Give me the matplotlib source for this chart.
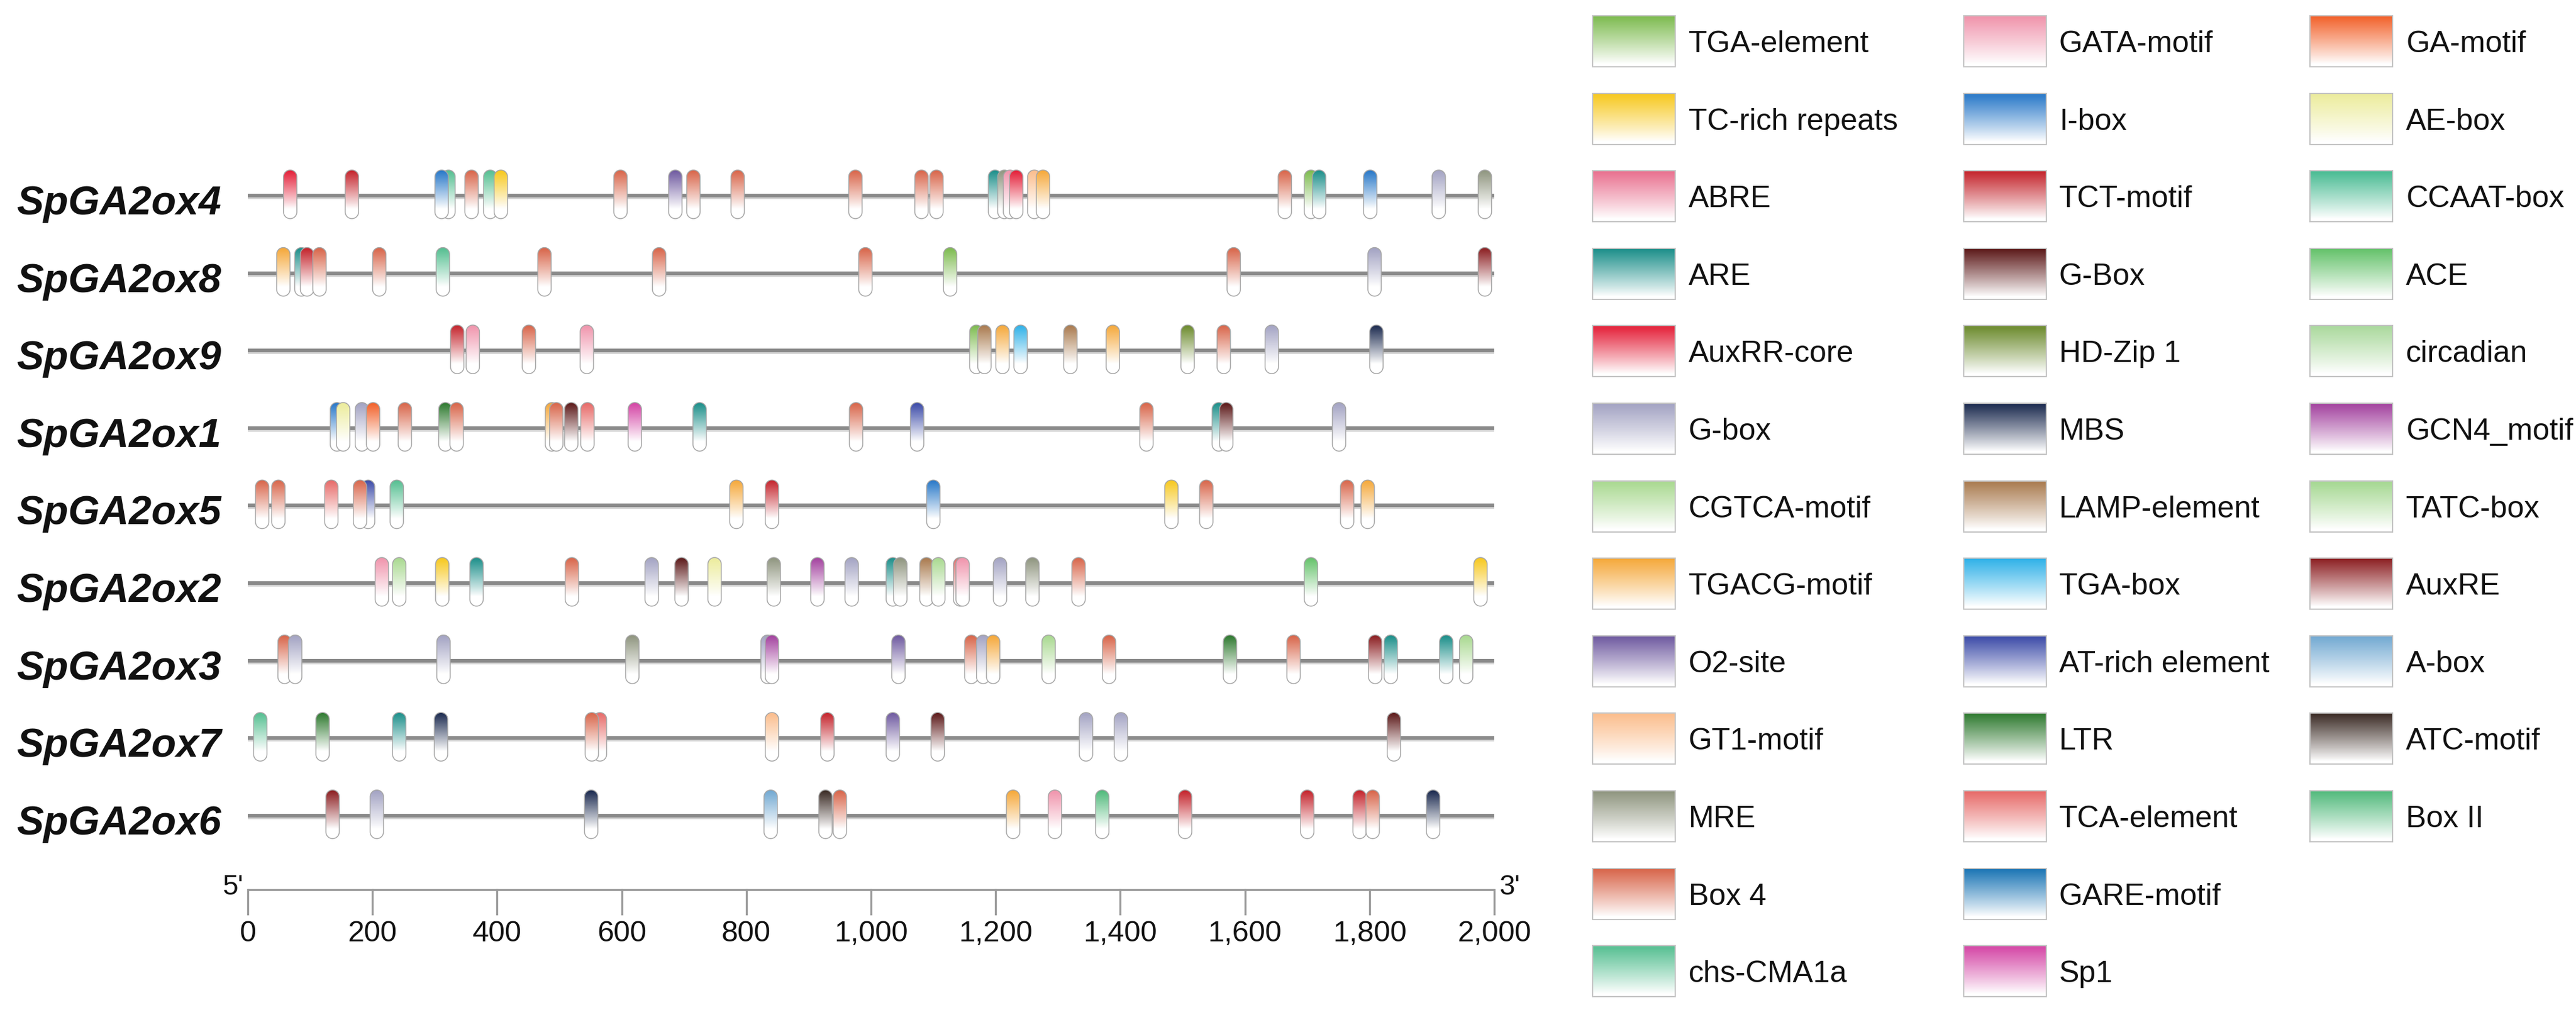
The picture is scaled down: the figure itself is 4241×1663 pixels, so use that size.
import numpy as np
import matplotlib
matplotlib.use("Agg")
import matplotlib.pyplot as plt
from matplotlib.patches import Polygon, Rectangle
from matplotlib.colors import to_rgb

plt.rcParams['font.family'] = ['Liberation Sans', 'DejaVu Sans']

# ---- data -----------------------------------------------------------------
genes = ["SpGA2ox4", "SpGA2ox8", "SpGA2ox9", "SpGA2ox1", "SpGA2ox5",
         "SpGA2ox2", "SpGA2ox3", "SpGA2ox7", "SpGA2ox6"]
gene_length = 2000

ox4_pos = [68, 167, 322, 311, 359, 389, 406, 598, 686, 715, 786, 975, 1081, 1105,
           1199, 1214, 1223, 1233, 1262, 1276, 1664, 1706, 1719, 1801, 1911, 1985]
ox4_elem = ["AuxRR-core", "TCT-motif", "chs-CMA1a", "I-box", "Box 4", "chs-CMA1a",
            "TC-rich repeats", "Box 4", "O2-site", "Box 4", "Box 4", "Box 4", "Box 4",
            "Box 4", "ARE", "MRE", "GATA-motif", "AuxRR-core", "GT1-motif",
            "TGACG-motif", "Box 4", "TGA-element", "ARE", "I-box", "G-box", "MRE"]

ox8_pos = [57, 86, 95, 115, 211, 313, 476, 660, 991, 1127, 1582, 1808, 1985]
ox8_elem = ["TGACG-motif", "ARE", "TCT-motif", "Box 4", "Box 4", "chs-CMA1a",
            "Box 4", "Box 4", "Box 4", "TGA-element", "Box 4", "G-box", "AuxRE"]

ox9_pos = [336, 361, 451, 544, 1169, 1182, 1211, 1240, 1320, 1388, 1508, 1566,
           1643, 1811]
ox9_elem = ["TCT-motif", "GATA-motif", "Box 4", "GATA-motif", "TGA-element",
            "LAMP-element", "TGACG-motif", "TGA-box", "LAMP-element", "TGACG-motif",
            "HD-Zip 1", "Box 4", "G-box", "MBS"]

ox1_pos = [143, 153, 183, 201, 252, 317, 335, 488, 495, 519, 545, 621, 725, 976,
           1074, 1442, 1558, 1570, 1751]
ox1_elem = ["I-box", "AE-box", "G-box", "GA-motif", "Box 4", "LTR", "Box 4",
            "TGACG-motif", "Box 4", "G-Box", "TCA-element", "Sp1", "ARE", "Box 4",
            "AT-rich element", "Box 4", "ARE", "G-Box", "G-box"]

ox5_pos = [23, 49, 134, 193, 180, 239, 784, 841, 1100, 1482, 1538, 1764, 1797]
ox5_elem = ["Box 4", "Box 4", "TCA-element", "AT-rich element", "Box 4",
            "chs-CMA1a", "TGACG-motif", "TCT-motif", "I-box", "TC-rich repeats",
            "Box 4", "Box 4", "TGACG-motif"]

ox2_pos = [215, 243, 312, 367, 520, 648, 696, 749, 844, 914, 969, 1035, 1047,
           1089, 1108, 1143, 1147, 1207, 1259, 1333, 1706, 1978]
ox2_elem = ["GATA-motif", "CGTCA-motif", "TC-rich repeats", "ARE", "Box 4", "G-box",
            "G-Box", "AE-box", "MRE", "GCN4_motif", "G-box", "ARE", "MRE",
            "LAMP-element", "CGTCA-motif", "TCA-element", "GATA-motif", "G-box",
            "MRE", "Box 4", "ACE", "TC-rich repeats"]

ox3_pos = [59, 76, 314, 617, 834, 841, 1044, 1161, 1180, 1196, 1285, 1382, 1576,
           1678, 1809, 1834, 1923, 1955]
ox3_elem = ["Box 4", "G-box", "G-box", "MRE", "G-box", "GCN4_motif", "O2-site",
            "Box 4", "G-box", "TGACG-motif", "CGTCA-motif", "Box 4", "LTR", "Box 4",
            "AuxRE", "ARE", "ARE", "CGTCA-motif"]

ox7_pos = [20, 120, 243, 310, 565, 552, 841, 930, 1035, 1107, 1345, 1401, 1839]
ox7_elem = ["chs-CMA1a", "LTR", "ARE", "MBS", "TCA-element", "Box 4", "GT1-motif",
            "TCT-motif", "O2-site", "G-Box", "G-box", "G-box", "G-Box"]

ox6_pos = [136, 207, 551, 839, 927, 950, 1228, 1295, 1371, 1504, 1700, 1784, 1805,
           1902]
ox6_elem = ["AuxRE", "G-box", "MBS", "A-box", "ATC-motif", "Box 4", "TGACG-motif",
            "GATA-motif", "Box II", "TCT-motif", "TCT-motif", "TCT-motif", "Box 4",
            "MBS"]

gene_pos = [ox4_pos, ox8_pos, ox9_pos, ox1_pos, ox5_pos, ox2_pos, ox3_pos, ox7_pos, ox6_pos]
gene_elem = [ox4_elem, ox8_elem, ox9_elem, ox1_elem, ox5_elem, ox2_elem, ox3_elem,
             ox7_elem, ox6_elem]

tick_values = [0, 200, 400, 600, 800, 1000, 1200, 1400, 1600, 1800, 2000]

legend_cols = [
    ["TGA-element", "TC-rich repeats", "ABRE", "ARE", "AuxRR-core", "G-box",
     "CGTCA-motif", "TGACG-motif", "O2-site", "GT1-motif", "MRE", "Box 4", "chs-CMA1a"],
    ["GATA-motif", "I-box", "TCT-motif", "G-Box", "HD-Zip 1", "MBS", "LAMP-element",
     "TGA-box", "AT-rich element", "LTR", "TCA-element", "GARE-motif", "Sp1"],
    ["GA-motif", "AE-box", "CCAAT-box", "ACE", "circadian", "GCN4_motif", "TATC-box",
     "AuxRE", "A-box", "ATC-motif", "Box II"],
]

element_colors = {
    "TGA-element": "#7dbb4f", "TC-rich repeats": "#f7c81e", "ABRE": "#e9708f",
    "ARE": "#1c8f8a", "AuxRR-core": "#e41f38", "G-box": "#a3a3c3",
    "CGTCA-motif": "#a9d990", "TGACG-motif": "#f5a83a", "O2-site": "#6f5aa0",
    "GT1-motif": "#fbbd8c", "MRE": "#8f957f", "Box 4": "#d8654a",
    "chs-CMA1a": "#55bf91", "GATA-motif": "#f094ac", "I-box": "#2878c8",
    "TCT-motif": "#c4242c", "G-Box": "#5c1919", "HD-Zip 1": "#6b8a2c",
    "MBS": "#1b2a4f", "LAMP-element": "#a97a4e", "TGA-box": "#2fb1e8",
    "AT-rich element": "#3c4ba8", "LTR": "#2f7a30", "TCA-element": "#e76a68",
    "GARE-motif": "#1b75b5", "Sp1": "#d445a5", "GA-motif": "#f2612a",
    "AE-box": "#ecec9c", "CCAAT-box": "#48bb92", "ACE": "#64c26a",
    "circadian": "#aad99c", "GCN4_motif": "#a3429f", "TATC-box": "#a5d891",
    "AuxRE": "#8c1f22", "A-box": "#72a9d2", "ATC-motif": "#3b2b25",
    "Box II": "#52ba7c",
}

# ---- layout (pixels) -------------------------------------------------------
W, H = 4241, 1663
X0_PX, X1_PX = 408, 2460          # 0 bp and 2000 bp
ROW0_PX, ROW_STEP = 322, 127.6    # first gene line, row spacing
PX_X = gene_length / (X1_PX - X0_PX)   # bp per pixel
PX_Y = 1.0 / ROW_STEP                  # rows per pixel
CAP_W, CAP_H, CAP_DY = 22, 80, -2


def gradient(color, n=64, fade=0.8):
    t = np.linspace(0, 1, n)
    mix = np.clip((fade - t) / fade, 0, 1) ** 0.95
    c = np.array(to_rgb(color))
    rgb = 1 - mix[:, None] * (1 - c[None, :])
    return rgb[:, None, :]


def capsule(ax, xc, yc, color, z):
    r = CAP_W / 2
    t = np.linspace(0, np.pi, 24)
    top_c = CAP_DY - CAP_H / 2 + r
    bot_c = CAP_DY + CAP_H / 2 - r
    xs = np.concatenate([r * np.cos(t), -r * np.cos(t)])
    ys = np.concatenate([top_c - r * np.sin(t), bot_c + r * np.sin(t)])
    pts = np.column_stack([xc + xs * PX_X, yc + ys * PX_Y])
    outline = Polygon(pts, closed=True, facecolor="none", edgecolor="#a6a6a6",
                      linewidth=1.1, zorder=z + 0.005)
    ax.add_patch(outline)
    ext = (xc - r * PX_X, xc + r * PX_X,
           yc + (CAP_DY + CAP_H / 2) * PX_Y, yc + (CAP_DY - CAP_H / 2) * PX_Y)
    im = ax.imshow(gradient(color), extent=ext, origin="upper", aspect="auto",
                   interpolation="bilinear", zorder=z)
    im.set_clip_path(outline)


fig = plt.figure(figsize=(W / 100, H / 100), dpi=100)
ax = fig.add_axes([0, 0, 1, 1])
ax.axis("off")

# gene lines and elements
z = 2.0
for i, (name, pos, elem) in enumerate(zip(genes, gene_pos, gene_elem)):
    ax.plot([0, gene_length], [i + 3 * PX_Y, i + 3 * PX_Y], color="#d2d2d2",
            lw=4.0, solid_capstyle="butt", zorder=1)
    ax.plot([0, gene_length], [i, i], color="#8a8a8a", lw=4.3,
            solid_capstyle="butt", zorder=1.1)
    ax.text(-44 * PX_X, i + 31 * PX_Y, name, ha="right", va="baseline",
            fontsize=48, fontweight="bold", fontstyle="italic", color="#111111")
    for p, e in zip(pos, elem):
        capsule(ax, p, i, element_colors[e], z)
        z += 0.01

# scale bar
ys = 8.96
ax.plot([0, gene_length], [ys, ys], color="#9a9a9a", lw=2.4,
        solid_capstyle="butt", zorder=1)
for tv in tick_values:
    ax.plot([tv, tv], [ys, ys + 40 * PX_Y], color="#9a9a9a", lw=2.4, zorder=1)
    ax.text(tv, ys + 85 * PX_Y, f"{tv:,}", ha="center", va="baseline",
            fontsize=35, color="#111111")
ax.text(-8 * PX_X, ys + 8 * PX_Y, "5'", ha="right", va="baseline", fontsize=33,
        color="#111111")
ax.text(gene_length + 8 * PX_X, ys + 8 * PX_Y, "3'", ha="left", va="baseline",
        fontsize=33, color="#111111")

ax.set_xlim(-X0_PX * PX_X, (W - X0_PX) * PX_X)
ax.set_ylim((H - ROW0_PX) * PX_Y, -ROW0_PX * PX_Y)

# legend, drawn in pixel coordinates
lax = fig.add_axes([0, 0, 1, 1])
lax.axis("off")
lax.set_xlim(0, W)
lax.set_ylim(H, 0)
sw_left = [2622, 3233, 3803]
txt_left = [2780, 3390, 3961]
SW_W, SW_H = 136, 84
LEG_Y0, LEG_STEP = 68, 127.6
for c, items in enumerate(legend_cols):
    for k, e in enumerate(items):
        yc = LEG_Y0 + k * LEG_STEP
        x0 = sw_left[c]
        lax.imshow(gradient(element_colors[e], fade=0.95),
                   extent=(x0, x0 + SW_W, yc + SW_H / 2, yc - SW_H / 2),
                   origin="upper", aspect="auto", interpolation="bilinear", zorder=2)
        lax.add_patch(Rectangle((x0, yc - SW_H / 2), SW_W, SW_H, facecolor="none",
                                edgecolor="#c4c4c4", lw=1.5, zorder=3))
        lax.text(txt_left[c], yc + 18, e, ha="left", va="baseline", fontsize=36,
                 color="#111111")
lax.set_xlim(0, W)
lax.set_ylim(H, 0)

fig.savefig("out.png", dpi=100)
